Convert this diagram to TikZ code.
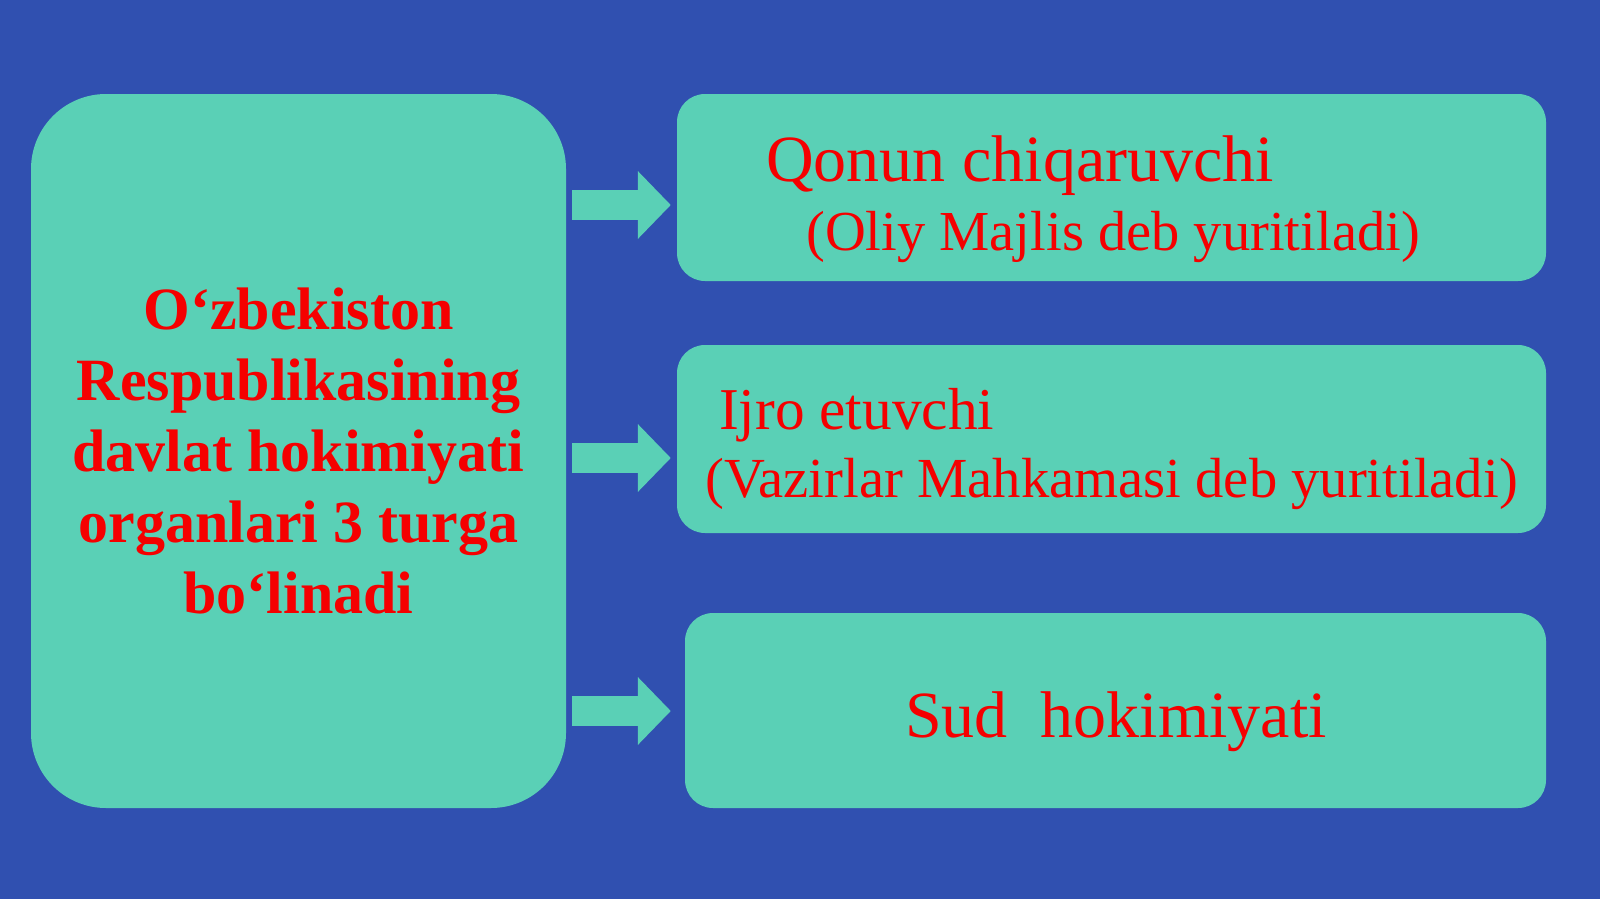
\documentclass[tikz,border=0pt]{standalone}
\usepackage{fontspec}
\setmainfont{Liberation Serif}
\usetikzlibrary{arrows.meta,calc}
\definecolor{bgblue}{RGB}{48,80,176}
\definecolor{boxteal}{RGB}{90,208,182}
\definecolor{txtred}{RGB}{245,0,0}
\tikzset{
  bigbox/.style={fill=boxteal, rounded corners=75pt, minimum width=535pt, minimum height=714pt, inner sep=0pt, align=center, text=txtred, font=\fontsize{60}{71}\selectfont\bfseries},
  sidebox/.style={fill=boxteal, rounded corners=28pt, inner sep=0pt},
  lbl/.style={text=txtred, inner sep=0pt, anchor=base west},
  blockarrow/.style={draw=boxteal, line width=30pt, -{Triangle[length=33pt,width=66pt]}}
}
\begin{document}
\begin{tikzpicture}[x=1pt,y=-1pt]
\fill[bgblue] (0,0) rectangle (1600,899);
\useasboundingbox (0,0) rectangle (1600,899);
% left box
\node[bigbox] (L) at (298.5,451) {O‘zbekiston\\Respublikasining\\davlat hokimiyati\\organlari 3 turga\\bo‘linadi};
% right boxes
\node[sidebox, minimum width=869pt, minimum height=187pt] (T) at (1111.5,187.5) {};
\node[sidebox, minimum width=869pt, minimum height=188pt] (M) at (1111.5,439) {};
\node[sidebox, minimum width=861pt, minimum height=195pt] (B) at (1115.5,710.5) {};
% texts
\node[lbl, font=\fontsize{66}{70}\selectfont] (t1) at (766,181) {Qonun chiqaruvchi};
\node[lbl, font=\fontsize{56.5}{60}\selectfont] (t2) at (806,250) {(Oliy Majlis deb yuritiladi)};
\node[lbl, font=\fontsize{59.3}{62}\selectfont] (m1) at (719,429) {Ijro etuvchi};
\node[lbl, font=\fontsize{56.6}{60}\selectfont] (m2) at (705,497) {(Vazirlar Mahkamasi deb yuritiladi)};
\node[lbl, font=\fontsize{66}{70}\selectfont] (b1) at (905,737) {Sud\ \ hokimiyati};
% arrows
\coordinate (y1) at (0,205);
\coordinate (y2) at (0,458);
\coordinate (y3) at (0,711);
\draw[blockarrow] ([xshift=6pt]L.east |- y1) -- ([xshift=-6pt]T.west |- y1);
\draw[blockarrow] ([xshift=6pt]L.east |- y2) -- ([xshift=-6pt]M.west |- y2);
\draw[blockarrow] ([xshift=6pt]L.east |- y3) -- ([xshift=-14pt]B.west |- y3);
\end{tikzpicture}
\end{document}
